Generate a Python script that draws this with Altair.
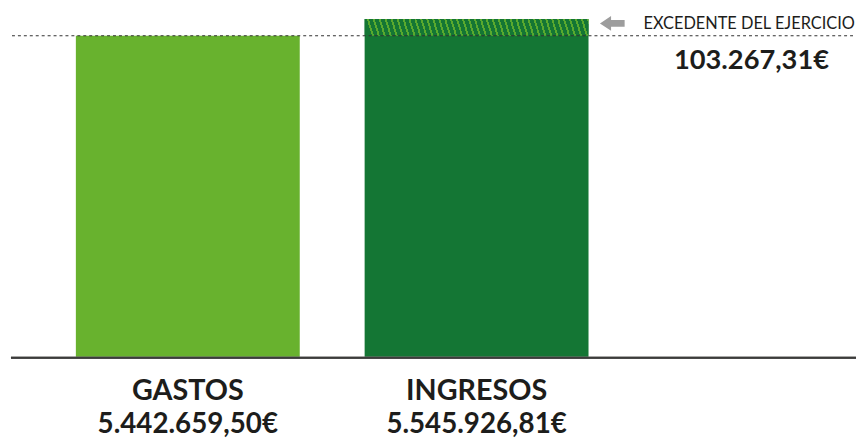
import altair as alt
import pandas as pd

# ---------------- data ----------------
categories = ["GASTOS", "INGRESOS"]
values = [5442659.50, 5545926.81]
value_labels = ["5.442.659,50€", "5.545.926,81€"]
excess_title = "EXCEDENTE DEL EJERCICIO"
excess_value = 103267.31
excess_label = "103.267,31€"

# ---------------- layout / style ----------------
W, H = 856, 350
Y_DOMAIN = [3474500, 5600600]
X_RANGE = [181.5, 473]
BAR_W = 226
LIGHT = "#68b22e"
DARK = "#147634"
STRIPE = "#5aa92e"
TXT = "#1d1d1b"
FONT = "Lato"

df = pd.DataFrame({"category": categories, "value": values, "label": value_labels})
hatch_df = pd.DataFrame({"category": [categories[1]], "start": [values[0]], "end": [values[1]]})
ann_df = pd.DataFrame({"category": [categories[1]], "top": [values[1]],
                       "title": [excess_title], "label": [excess_label]})

xs = alt.X("category:N",
           scale=alt.Scale(type="point", domain=categories, range=X_RANGE, padding=0),
           axis=None)
ysc = alt.Scale(domain=Y_DOMAIN, zero=False, nice=False)

# striped gradient for the excess (hatched) part
period = 6.0 / BAR_W
sw = 2.0 / BAR_W
stops = [alt.GradientStop(color=DARK, offset=0)]
k = 0
while True:
    s = round(k * period + 0.01, 5)
    if s >= 1:
        break
    e = round(min(s + sw, 1), 5)
    stops += [alt.GradientStop(color=DARK, offset=s), alt.GradientStop(color=STRIPE, offset=s),
              alt.GradientStop(color=STRIPE, offset=e), alt.GradientStop(color=DARK, offset=e)]
    k += 1
stops.append(alt.GradientStop(color=DARK, offset=1))
hatch = alt.LinearGradient(gradient="linear", stops=stops, x1=0, y1=0.023, x2=1, y2=0)

bars = alt.Chart(df).mark_bar(size=BAR_W, clip=True).encode(
    x=xs,
    y=alt.Y("value:Q", scale=ysc, axis=None),
    color=alt.Color("category:N", scale=alt.Scale(domain=categories, range=[LIGHT, DARK]), legend=None),
)

hatched = alt.Chart(hatch_df).mark_bar(size=BAR_W, color=hatch).encode(
    x=xs,
    y=alt.Y("end:Q", scale=ysc, axis=None),
    y2="start:Q",
)

dotted = alt.Chart(df).transform_filter(alt.datum.category == categories[0]).mark_rule(
    color="#333333", strokeWidth=1.2, strokeDash=[3, 3]
).encode(
    y=alt.Y("value:Q", scale=ysc, axis=None),
    x=alt.value(4), x2=alt.value(W),
)

baseline = alt.Chart(df).mark_rule(color="#3c3c3b", strokeWidth=2).encode(
    y=alt.value(H + 1), x=alt.value(3), x2=alt.value(W),
)

cat_text = alt.Chart(df).mark_text(
    font=FONT, fontSize=29, fontWeight="bold", color=TXT, baseline="alphabetic",
    align="center", dy=44,
).encode(x=xs, y=alt.value(H), text="category:N")

val_text = alt.Chart(df).mark_text(
    font=FONT, fontSize=28, fontWeight="bold", color=TXT, baseline="alphabetic",
    align="center", dy=77,
).encode(x=xs, y=alt.value(H), text="label:N")

ann_title = alt.Chart(ann_df).mark_text(
    font=FONT, fontSize=16.5, color=TXT, baseline="alphabetic", align="left",
    dx=168.5, dy=10,
).encode(x=xs, y=alt.Y("top:Q", scale=ysc, axis=None), text="title:N")

ann_value = alt.Chart(ann_df).mark_text(
    font=FONT, fontSize=27.5, fontWeight="bold", color=TXT, baseline="alphabetic", align="center",
    dx=277.5, dy=51,
).encode(x=xs, y=alt.Y("top:Q", scale=ysc, axis=None), text="label:N")

arrow_path = "M-1,0 L-0.1,-0.6 L-0.1,-0.28 L1,-0.28 L1,0.28 L-0.1,0.28 L-0.1,0.6 Z"
arrow = alt.Chart(ann_df).mark_point(
    shape=arrow_path, size=620, filled=True, color="#9d9d9d", opacity=1,
    xOffset=137, yOffset=4.5,
).encode(x=xs, y=alt.Y("top:Q", scale=ysc, axis=None))

chart = alt.layer(bars, hatched, dotted, baseline, cat_text, val_text, ann_title, ann_value, arrow).properties(
    width=W, height=H,
    autosize=alt.AutoSizeParams(type="none"),
    padding={"left": 0, "top": 0, "right": 0, "bottom": 81},
    background="white",
).configure_view(stroke=None)

chart.save("out.html", embed_options={"renderer": "svg", "actions": False})
